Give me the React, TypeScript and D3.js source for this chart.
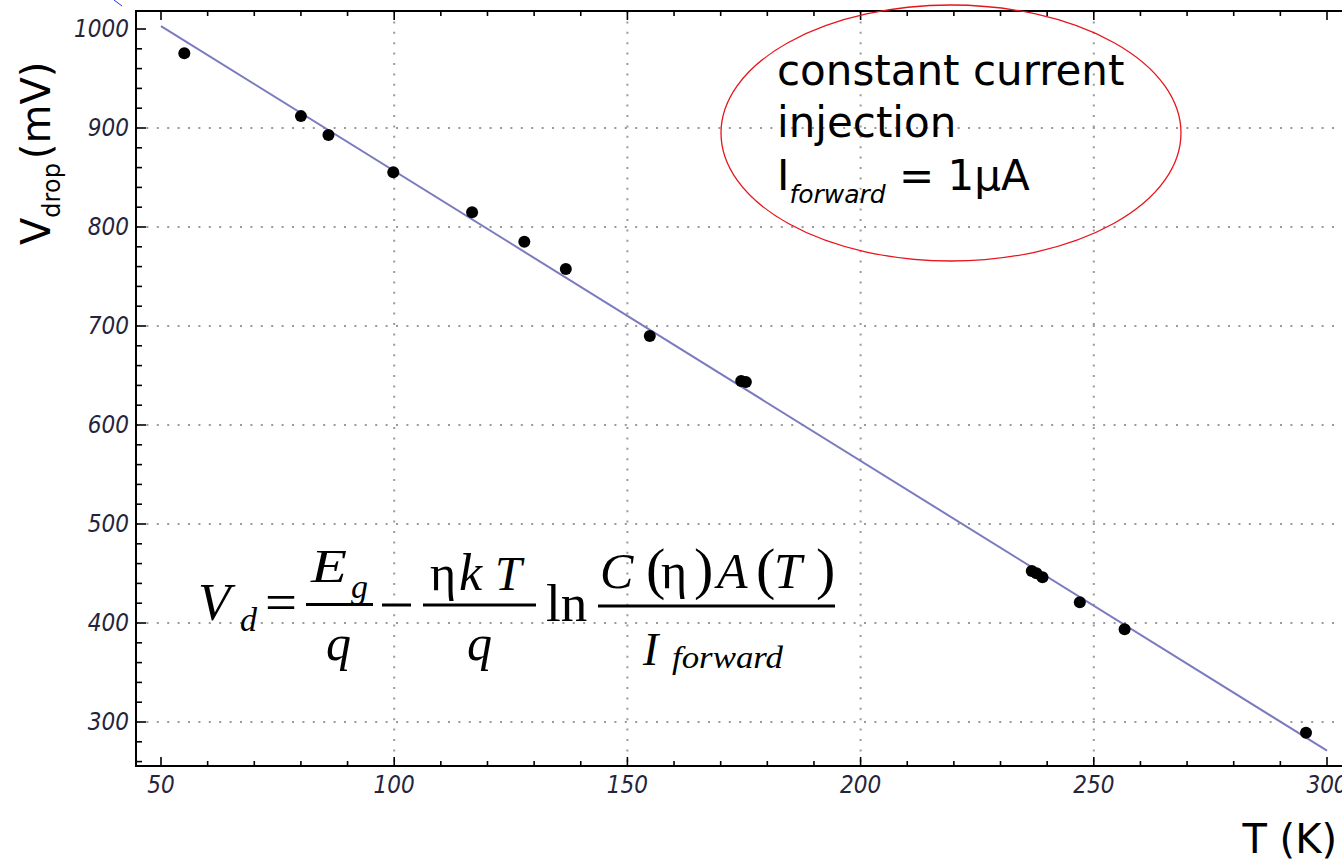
import * as d3 from "d3";

// measured points, T in kelvin and forward voltage drop in mV
const temperatureK = [55.0, 80.0, 85.9, 99.8, 116.7, 127.9, 136.8, 154.8, 174.4, 175.4, 236.7, 237.7, 239.0, 247.0, 256.6, 295.5];
const vDropMv = [975.5, 912, 893, 855.2, 814.8, 785.2, 757.6, 689.9, 644.4, 643.4, 452.5, 450.2, 446.2, 420.9, 393.6, 289.2];

// linear fit V = a + b*T
const fitIntercept = 1149.4;
const fitSlope = -2.928;
const fitRange = [50, 300];

const xMajorTicks = [50, 100, 150, 200, 250, 300];
const yMajorTicks = [300, 400, 500, 600, 700, 800, 900, 1000];
const xGrid = [100, 150, 200, 250];
const yGrid = [300, 400, 500, 600, 700, 800, 900];

const width = 1342;
const height = 859;
const frame = { left: 136, top: 11, right: 1346, bottom: 766 };

const tickFont = "'DejaVu Sans Condensed', 'DejaVu Sans', sans-serif";
const sans = "'DejaVu Sans', sans-serif";
const serif = "'Liberation Serif', 'DejaVu Serif', serif";

// one glyph of the formula: [text, x, baseline, size, italic]
const Glyph = ({ t, x, y, size, it = true, len }) => (
  <text
    x={x}
    y={y}
    fontSize={size}
    fontStyle={it ? "italic" : "normal"}
    textLength={len}
    lengthAdjust={len ? "spacingAndGlyphs" : undefined}
  >
    {t}
  </text>
);

const App = () => {
  const xScale = d3.scaleLinear().domain([50, 300]).range([161, 1327]);
  const yScale = d3.scaleLinear().domain([300, 1000]).range([722, 29]);

  const xMinor = d3.range(50, 301, 10).filter((t) => !xMajorTicks.includes(t));
  const yMinor = d3.range(260, 1001, 20).filter((v) => !yMajorTicks.includes(v));

  const points = temperatureK.map((t, i) => [t, vDropMv[i]]);
  const fitPoints = fitRange.map((t) => [t, fitIntercept + fitSlope * t]);
  const fitLine = d3
    .line()
    .x((d) => xScale(d[0]))
    .y((d) => yScale(d[1]));

  const gridStyle = { stroke: "#9a9a9a", strokeWidth: 2, strokeDasharray: "2 8.4" };

  return (
    <svg width={width} height={height} style={{ position: "absolute", left: 0, top: 0, background: "#fff" }}>
      {/* stray mark at top left */}
      <line x1={114} y1={0} x2={122} y2={6} stroke="#2233ee" strokeWidth={1} />

      {/* grid */}
      {xGrid.map((t) => (
        <line key={"gx" + t} x1={xScale(t)} x2={xScale(t)} y1={frame.top} y2={frame.bottom} style={gridStyle} />
      ))}
      {yGrid.map((v) => (
        <line key={"gy" + v} x1={frame.left} x2={frame.right} y1={yScale(v)} y2={yScale(v)} style={gridStyle} />
      ))}

      {/* ticks */}
      {xMajorTicks.map((t) => (
        <g key={"xt" + t} stroke="#000" strokeWidth={1.6}>
          <line x1={xScale(t)} x2={xScale(t)} y1={frame.bottom} y2={frame.bottom - 9} />
          <line x1={xScale(t)} x2={xScale(t)} y1={frame.top} y2={frame.top + 9} />
        </g>
      ))}
      {xMinor.map((t) => (
        <g key={"xm" + t} stroke="#000" strokeWidth={1.6}>
          <line x1={xScale(t)} x2={xScale(t)} y1={frame.bottom} y2={frame.bottom - 5} />
          <line x1={xScale(t)} x2={xScale(t)} y1={frame.top} y2={frame.top + 5} />
        </g>
      ))}
      {yMajorTicks.map((v) => (
        <line key={"yt" + v} x1={frame.left} x2={frame.left + 10} y1={yScale(v)} y2={yScale(v)} stroke="#000" strokeWidth={1.6} />
      ))}
      {yMinor.map((v) => (
        <line key={"ym" + v} x1={frame.left} x2={frame.left + 6} y1={yScale(v)} y2={yScale(v)} stroke="#000" strokeWidth={1.6} />
      ))}

      <rect
        x={frame.left}
        y={frame.top}
        width={frame.right - frame.left}
        height={frame.bottom - frame.top}
        fill="none"
        stroke="#000"
        strokeWidth={2}
      />

      {/* tick labels */}
      {xMajorTicks.map((t) => (
        <text
          key={"xl" + t}
          x={xScale(t)}
          y={793}
          textAnchor="middle"
          fontFamily={tickFont}
          fontStretch="condensed"
          fontStyle="italic"
          fontSize={24}
          fill="#24243c"
        >
          {t}
        </text>
      ))}
      {yMajorTicks.map((v) => (
        <text
          key={"yl" + v}
          x={129}
          y={yScale(v) + 8}
          textAnchor="end"
          fontFamily={tickFont}
          fontStretch="condensed"
          fontStyle="italic"
          fontSize={24}
          fill="#24243c"
        >
          {v}
        </text>
      ))}

      {/* fit and data */}
      <path d={fitLine(fitPoints)} fill="none" stroke="#7b7bc0" strokeWidth={2} />
      {points.map((d, i) => (
        <circle key={i} cx={xScale(d[0])} cy={yScale(d[1])} r={6} fill="#000" />
      ))}

      {/* axis labels */}
      <text transform="translate(50,245) rotate(-90)" fontFamily={sans} fontSize={40} fill="#000">
        V
        <tspan fontSize={24} dy={10}>
          drop
        </tspan>
        <tspan dy={-10} dx={4}>
          (mV)
        </tspan>
      </text>
      <text x={1337} y={853} textAnchor="end" fontFamily={sans} fontSize={40} fill="#000">
        T (K)
      </text>

      {/* annotation */}
      <ellipse cx={951} cy={133} rx={230} ry={128} fill="none" stroke="#e8141c" strokeWidth={1.3} />
      <g fontFamily={sans} fontSize={42} fill="#000">
        <text x={777} y={85}>constant current</text>
        <text x={777} y={137}>injection</text>
        <text x={777} y={190}>
          I
          <tspan fontSize={25} fontStyle="italic" dy={13}>
            forward
          </tspan>
          <tspan dy={-13}> = 1μA</tspan>
        </text>
      </g>

      {/* formula */}
      <g fontFamily={serif} fill="#000">
        <Glyph t="V" x={198} y={620} size={53} />
        <Glyph t="d" x={240} y={631} size={34} />
        <Glyph t="=" x={265} y={620} size={53} it={false} len={32} />
        <line x1={306} x2={373} y1={604.5} y2={604.5} stroke="#000" strokeWidth={3} />
        <Glyph t="E" x={311} y={582} size={46} len={36} />
        <Glyph t="g" x={351} y={598} size={34} />
        <Glyph t="q" x={326} y={660} size={50} />
        <line x1={382} x2={411} y1={605} y2={605} stroke="#000" strokeWidth={3} />
        <line x1={423} x2={536} y1={605} y2={605} stroke="#000" strokeWidth={3} />
        <Glyph t="η" x={430} y={590} size={50} it={false} />
        <Glyph t="k" x={459} y={590} size={52} />
        <Glyph t="T" x={495} y={590} size={48} />
        <Glyph t="q" x={467} y={660} size={50} />
        <Glyph t="ln" x={546} y={621} size={53} it={false} />
        <line x1={598} x2={835} y1={606} y2={606} stroke="#000" strokeWidth={3} />
        <Glyph t="C" x={600} y={588} size={50} />
        <Glyph t="(" x={646} y={588} size={58} it={false} />
        <Glyph t="η" x={661} y={588} size={50} it={false} />
        <Glyph t=")" x={694} y={588} size={58} it={false} />
        <Glyph t="A" x={717} y={588} size={50} />
        <Glyph t="(" x={756} y={588} size={58} it={false} />
        <Glyph t="T" x={774} y={588} size={50} />
        <Glyph t=")" x={816} y={588} size={58} it={false} />
        <Glyph t="I" x={643} y={665} size={46} />
        <Glyph t="forward" x={672} y={668} size={32} len={111} />
      </g>
    </svg>
  );
};

export default App;
